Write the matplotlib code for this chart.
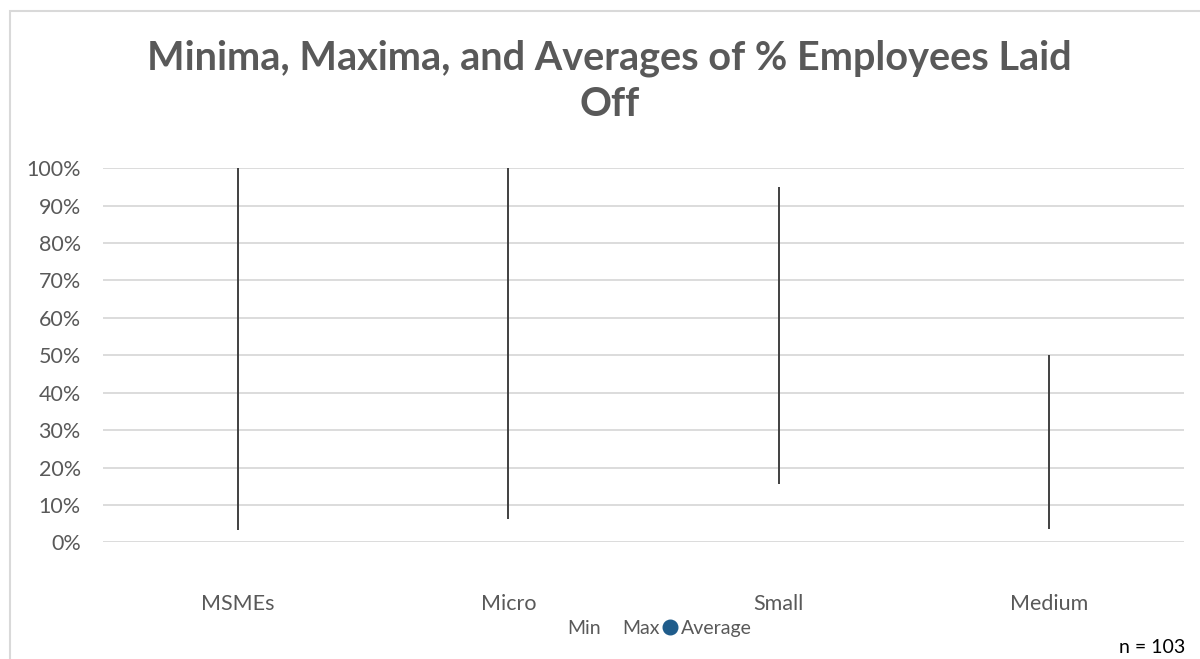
import matplotlib.pyplot as plt
import matplotlib.patches as mpatches
from matplotlib.lines import Line2D
from matplotlib.ticker import FuncFormatter
import numpy as np

plt.rcParams['font.family'] = ['Lato', 'DejaVu Sans']

categories = ["MSMEs", "Micro", "Small", "Medium"]
min_pct = [3.4, 6.2, 15.6, 3.5]
max_pct = [100, 100, 95, 50]

grey = '#595959'

fig = plt.figure(figsize=(12, 6.59), dpi=100)
ax = fig.add_axes([0.0858, 0.177, 0.901, 0.5677])

x = np.arange(len(categories))
ax.vlines(x, min_pct, max_pct, color='#404040', linewidth=1.4)

ax.set_xlim(-0.5, len(categories) - 0.5)
ax.set_ylim(0, 100)
ax.set_yticks(np.arange(0, 101, 10))
ax.yaxis.set_major_formatter(FuncFormatter(lambda v, p: f"{v:.0f}%"))
ax.set_xticks(x)
ax.set_xticklabels(categories)
ax.grid(axis='y', color='#d9d9d9', linewidth=1.3)
ax.set_axisbelow(True)
for s in ax.spines.values():
    s.set_visible(False)
ax.tick_params(axis='both', length=0, colors=grey, labelsize=15.5)
ax.tick_params(axis='x', pad=37)
ax.tick_params(axis='y', pad=16)

# legend: Min and Max have no marker, only Average does
handles = [
    Line2D([], [], linestyle='none', label='Min'),
    Line2D([], [], linestyle='none', label='Max'),
    Line2D([], [], linestyle='none', marker='o', markersize=10.5,
           color='#1f5c8b', label='Average'),
]
fig.legend(handles=handles, loc='center', bbox_to_anchor=(0.543, 0.047),
           ncol=3, frameon=False, fontsize=14, labelcolor=grey,
           handlelength=0.5, handletextpad=0.3, columnspacing=0.3)

fig.text(0.508, 0.912, "Minima, Maxima, and Averages of % Employees Laid",
         ha='center', va='center', fontsize=28.5, fontweight='bold', color=grey)
fig.text(0.508, 0.842, "Off", ha='center', va='center', fontsize=28.5,
         fontweight='bold', color=grey)
fig.text(0.988, 0.004, "n = 103", ha='right', va='bottom', fontsize=14,
         color='black')

# outer chart border
fig.patches.append(mpatches.Rectangle((10 / 1200, -0.1), 1.2, 1 - 11 / 659 + 0.1,
                                      transform=fig.transFigure, fill=False,
                                      edgecolor='#d9d9d9', linewidth=1.5))

fig.savefig('out.png', dpi=100)
